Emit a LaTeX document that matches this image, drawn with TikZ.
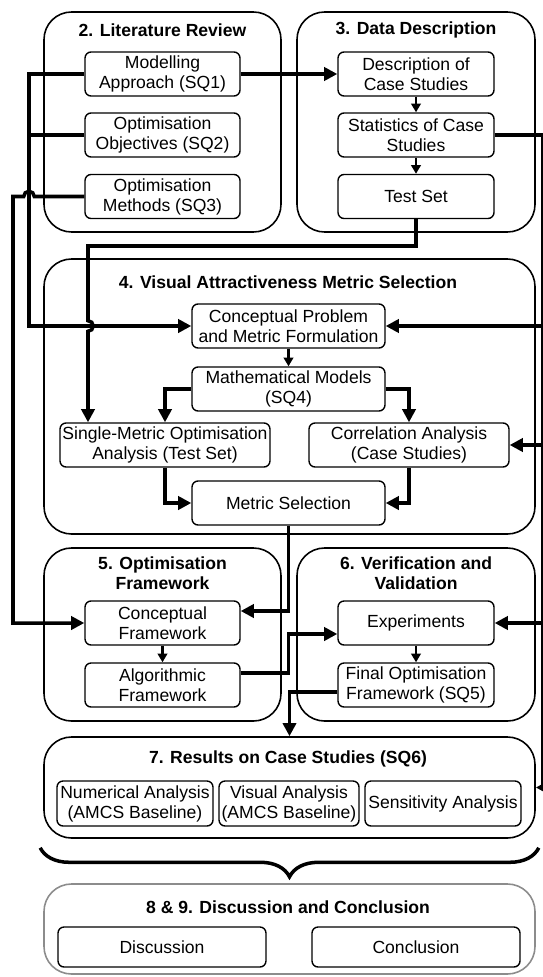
\documentclass[tikz,border=0pt]{standalone}
\usepackage{fontspec}
\setmainfont{Liberation Sans}
\usetikzlibrary{arrows.meta,fit,decorations.pathreplacing}

\tikzset{
  group/.style={draw=black, line width=0.9pt, rounded corners=0.55cm, inner sep=0pt},
  box/.style={draw=black, line width=0.8pt, rounded corners=0.12cm, align=center,
    minimum height=0.88cm, inner sep=0pt, font=\fontsize{10}{11.4}\selectfont},
  grouptitle/.style={font=\fontsize{10}{11.4}\selectfont\bfseries, align=center},
  wire/.style={line width=2pt},
  conn/.style={wire, -{Triangle[length=7.5pt,width=7.5pt]}},
  smallarrow/.style={line width=1.3pt, -{Triangle[length=5pt,width=5.5pt]}},
}

\begin{document}
\begin{tikzpicture}[x=0.02cm, y=-0.02cm]

  \useasboundingbox (0,0) rectangle (542,977);

  % -- bus lines -----------------------------------------------------------
  \coordinate (lbus1) at (29,0);
  \coordinate (lbus2) at (13,0);
  \coordinate (tsbend) at (88,246);
  \coordinate (midbus) at (288.5,0);
  \coordinate (rbus) at (542.5,0);

  % -- 2. literature review ------------------------------------------------
  \node[group, fit={(44,12) (281,232)}] (lit) {};
  \node[grouptitle] (littl) at (162.5,30) {2. Literature Review};
  \node[box, minimum width=3.1cm] (ma) at (162.5,74) {Modelling\\Approach (SQ1)};
  \node[box, minimum width=3.1cm] (oo) at (162.5,135) {Optimisation\\Objectives (SQ2)};
  \node[box, minimum width=3.1cm] (om) at (162.5,196.5) {Optimisation\\Methods (SQ3)};

  % -- 3. data description -------------------------------------------------
  \node[group, fit={(297,12) (535,232)}] (data) {};
  \node[grouptitle] (datatl) at (416,30) {3. Data Description};
  \node[box, minimum width=3.12cm] (dc) at (416,74) {Description of\\Case Studies};
  \node[box, minimum width=3.12cm] (st) at (416,135) {Statistics of Case\\Studies};
  \node[box, minimum width=3.12cm] (ts) at (416,196.5) {Test Set};

  % -- 4. metric selection -------------------------------------------------
  \node[group, fit={(44,259) (535,534)}] (vam) {};
  \node[grouptitle] (vamtl) at (288,282) {4. Visual Attractiveness Metric Selection};
  \node[box, minimum width=3.86cm] (cp) at (288.5,326) {Conceptual Problem\\and Metric Formulation};
  \node[box, minimum width=3.86cm] (mm) at (288.5,389) {Mathematical Models\\(SQ4)};
  \node[box, minimum width=4.2cm] (sm) at (165,445) {Single-Metric Optimisation\\Analysis (Test Set)};
  \node[box, minimum width=4.0cm] (ca) at (409,445) {Correlation Analysis\\(Case Studies)};
  \node[box, minimum width=3.86cm] (ms) at (288.5,503) {Metric Selection};

  % -- 5. optimisation framework -------------------------------------------
  \node[group, fit={(44,548) (281,721)}] (opt) {};
  \node[grouptitle] (opttl) at (162.5,573) {5. Optimisation\\Framework};
  \node[box, minimum width=3.1cm] (cf) at (162.5,623) {Conceptual\\Framework};
  \node[box, minimum width=3.1cm] (af) at (162.5,685) {Algorithmic\\Framework};

  % -- 6. verification and validation --------------------------------------
  \node[group, fit={(297,548) (535,721)}] (ver) {};
  \node[grouptitle] (vertl) at (416,573) {6. Verification and\\Validation};
  \node[box, minimum width=3.12cm] (ex) at (416,623) {Experiments};
  \node[box, minimum width=3.12cm] (fo) at (416,685) {Final Optimisation\\Framework (SQ5)};

  % -- 7. results ----------------------------------------------------------
  \node[group, fit={(44,737) (535,838)}] (rc) {};
  \node[grouptitle] (rctl) at (288,759) {7. Results on Case Studies (SQ6)};
  \node[box, minimum width=3.12cm, minimum height=0.9cm] (na) at (135,803.5) {Numerical Analysis\\(AMCS Baseline)};
  \node[box, minimum width=2.8cm, minimum height=0.9cm] (vi) at (289,803.5) {Visual Analysis\\(AMCS Baseline)};
  \node[box, minimum width=3.12cm, minimum height=0.9cm] (se) at (443,803.5) {Sensitivity Analysis};

  % -- 8 & 9. discussion and conclusion ------------------------------------
  \node[group, draw=black!45, fit={(44,884) (535,974)}] (dis) {};
  \node[grouptitle] (distl) at (288,907) {8 \& 9. Discussion and Conclusion};
  \node[box, minimum width=4.16cm, minimum height=0.8cm] (di) at (162,947) {Discussion};
  \node[box, minimum width=4.16cm, minimum height=0.8cm] (co) at (416,947) {Conclusion};

  % -- connectors ----------------------------------------------------------
  \draw[conn] (ma.east) -- (dc.west);
  \draw[conn] (ma.west) -- (ma.west -| lbus1) -- (lbus1 |- cp.west) -- (cp.west);
  \draw[wire] (oo.west) -- (oo.west -| lbus1);
  \draw[conn] (om.west) -- ([xshift=3pt]om.west -| lbus1)
    arc[start angle=0, end angle=180, radius=3pt]
    -- (om.west -| lbus2) -- (lbus2 |- cf.west) -- (cf.west);
  \draw[conn] (ts.south) |- (tsbend) -- ([yshift=3pt]tsbend |- cp.west)
    arc[start angle=90, end angle=-90, radius=3pt] -- (tsbend |- sm.north);

  \draw[smallarrow] (dc) -- (st);
  \draw[smallarrow] (st) -- (ts);
  \draw[smallarrow] (cp) -- (mm);
  \draw[conn] (mm.west) -| (sm.north);
  \draw[conn] (mm.east) -| (ca.north);
  \draw[conn] (sm.south) |- (ms.west);
  \draw[conn] (ca.south) |- (ms.east);

  \draw[conn] (ms.south) |- ([yshift=0.24cm]cf.east);
  \draw[smallarrow] (cf) -- (af);
  \draw[conn] ([yshift=0.24cm]af.east) -| ([yshift=-0.22cm]ex.west -| midbus)
    -- ([yshift=-0.22cm]ex.west);
  \draw[smallarrow] (ex) -- (fo);
  \draw[conn] ([yshift=-0.14cm]fo.west) -| (rc.north);

  % right-hand bus from the statistics, running along the edge
  \draw[wire] (st.east) -| (rbus |- rc.east);
  \draw[conn] (rbus |- cp.east) -- (cp.east);
  \draw[conn] (rbus |- ca.east) -- (ca.east);
  \draw[conn] (rbus |- ex.east) -- (ex.east);
  \draw[conn] (rbus |- rc.east) -- (rc.east);

  % brace down to the discussion
  \draw[wire, decorate, decoration={brace, amplitude=0.58cm}]
    ([shift={(0.06cm,-0.18cm)}]rc.south east) -- ([shift={(-0.06cm,-0.18cm)}]rc.south west);

\end{tikzpicture}
\end{document}
